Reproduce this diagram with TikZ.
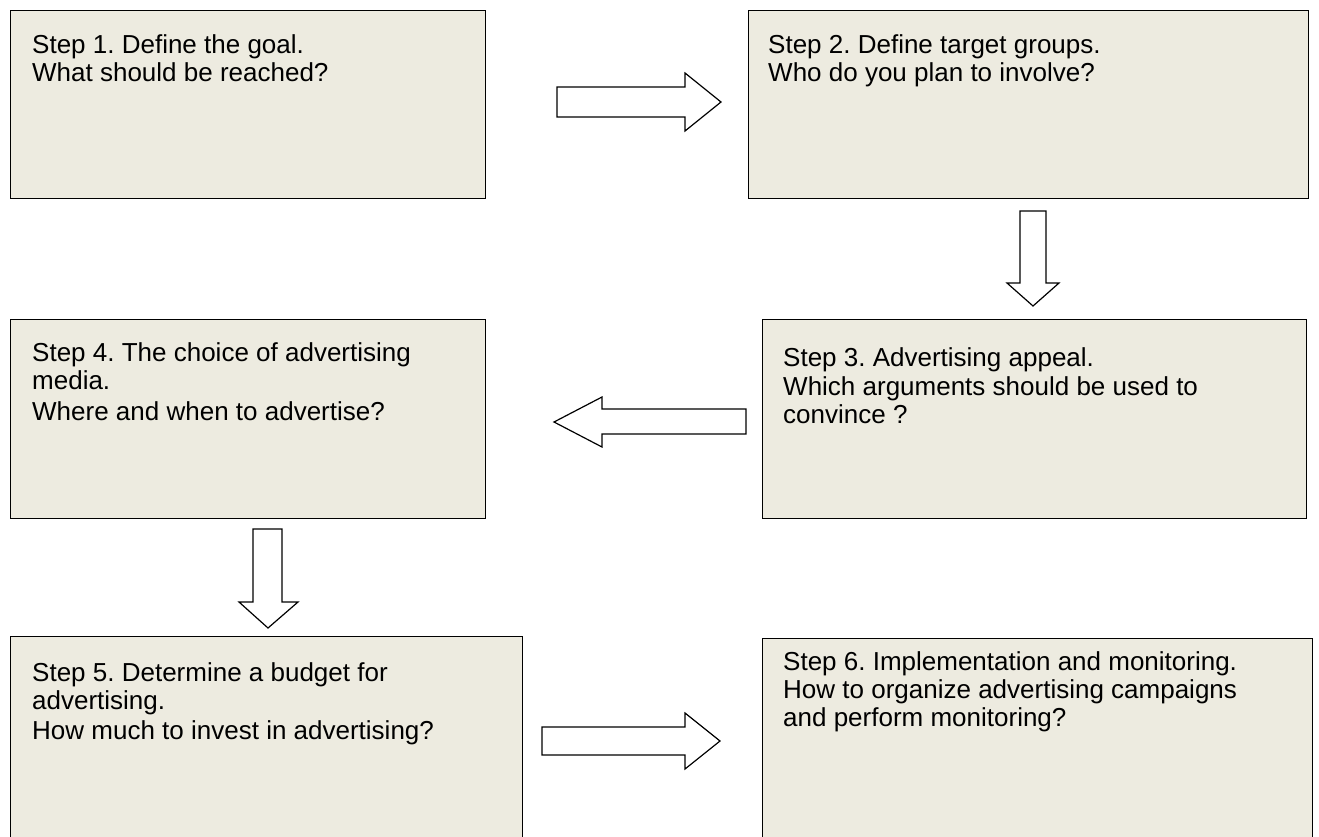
\documentclass[tikz,border=0pt]{standalone}
\usepackage{fontspec}
\setmainfont{Liberation Sans}
\frenchspacing
\usetikzlibrary{calc}
\definecolor{boxfill}{RGB}{237,235,224}
\begin{document}
\begin{tikzpicture}[x=1pt,y=-1pt,
  stepbox/.style={draw=black, line width=1.4pt, fill=boxfill, rectangle, inner sep=0pt, anchor=north west},
  steptext/.style={anchor=north west, align=left, inner sep=0pt, font=\fontsize{26}{28}\selectfont},
  blockarrow/.style={draw=black, line width=1.2pt, fill=white, line join=miter}]
\useasboundingbox (0,0) rectangle (1319,836);
\clip (0,0) rectangle (1319,836);
\fill[white] (0,0) rectangle (1319,836);
% boxes
\node[stepbox, minimum width=475, minimum height=188] (s1) at (10,10) {};
\node[stepbox, minimum width=560, minimum height=188] (s2) at (748,10) {};
\node[stepbox, minimum width=544, minimum height=199] (s3) at (762,319) {};
\node[stepbox, minimum width=475, minimum height=199] (s4) at (10,319) {};
\node[stepbox, minimum width=512, minimum height=260] (s5) at (10,636) {};
\node[stepbox, minimum width=550, minimum height=260] (s6) at (762,638) {};
% texts (first baseline = node top + 20)
\node[steptext] (t1) at (32,33) {\rule{0pt}{20pt}Step 1. Define the goal.\\What should be reached?};
\node[steptext] (t2) at (768,33) {\rule{0pt}{20pt}Step 2. Define target groups.\\Who do you plan to involve?};
\node[steptext] (t3) at (783,346) {\rule{0pt}{20pt}Step 3. Advertising appeal.\\[1pt]Which arguments should be used to\\convince ?};
\node[steptext] (t4) at (32,341) {\rule{0pt}{20pt}Step 4. The choice of advertising\\media.\\[3pt]Where and when to advertise?};
\node[steptext] (t5) at (32,661) {\rule{0pt}{20pt}Step 5. Determine a budget for\\advertising.\\[2pt]How much to invest in advertising?};
\node[steptext] (t6) at (783,650) {\rule{0pt}{20pt}Step 6. Implementation and monitoring.\\How to organize advertising campaigns\\and perform monitoring?};
% block arrows
\draw[blockarrow] (557,87) -- (685,87) -- (685,73) -- (721,102) -- (685,131) -- (685,117) -- (557,117) -- cycle;
\draw[blockarrow] (1020,211) -- (1046,211) -- (1046,283) -- (1059,283) -- (1033,306) -- (1007,283) -- (1020,283) -- cycle;
\draw[blockarrow] (746,409) -- (602,409) -- (602,397) -- (554,422) -- (602,447) -- (602,434) -- (746,434) -- cycle;
\draw[blockarrow] (253,529) -- (282,529) -- (282,602) -- (298,602) -- (268,628) -- (239,602) -- (253,602) -- cycle;
\draw[blockarrow] (542,727) -- (685,727) -- (685,713) -- (720,741) -- (685,769) -- (685,755) -- (542,755) -- cycle;
\end{tikzpicture}
\end{document}
